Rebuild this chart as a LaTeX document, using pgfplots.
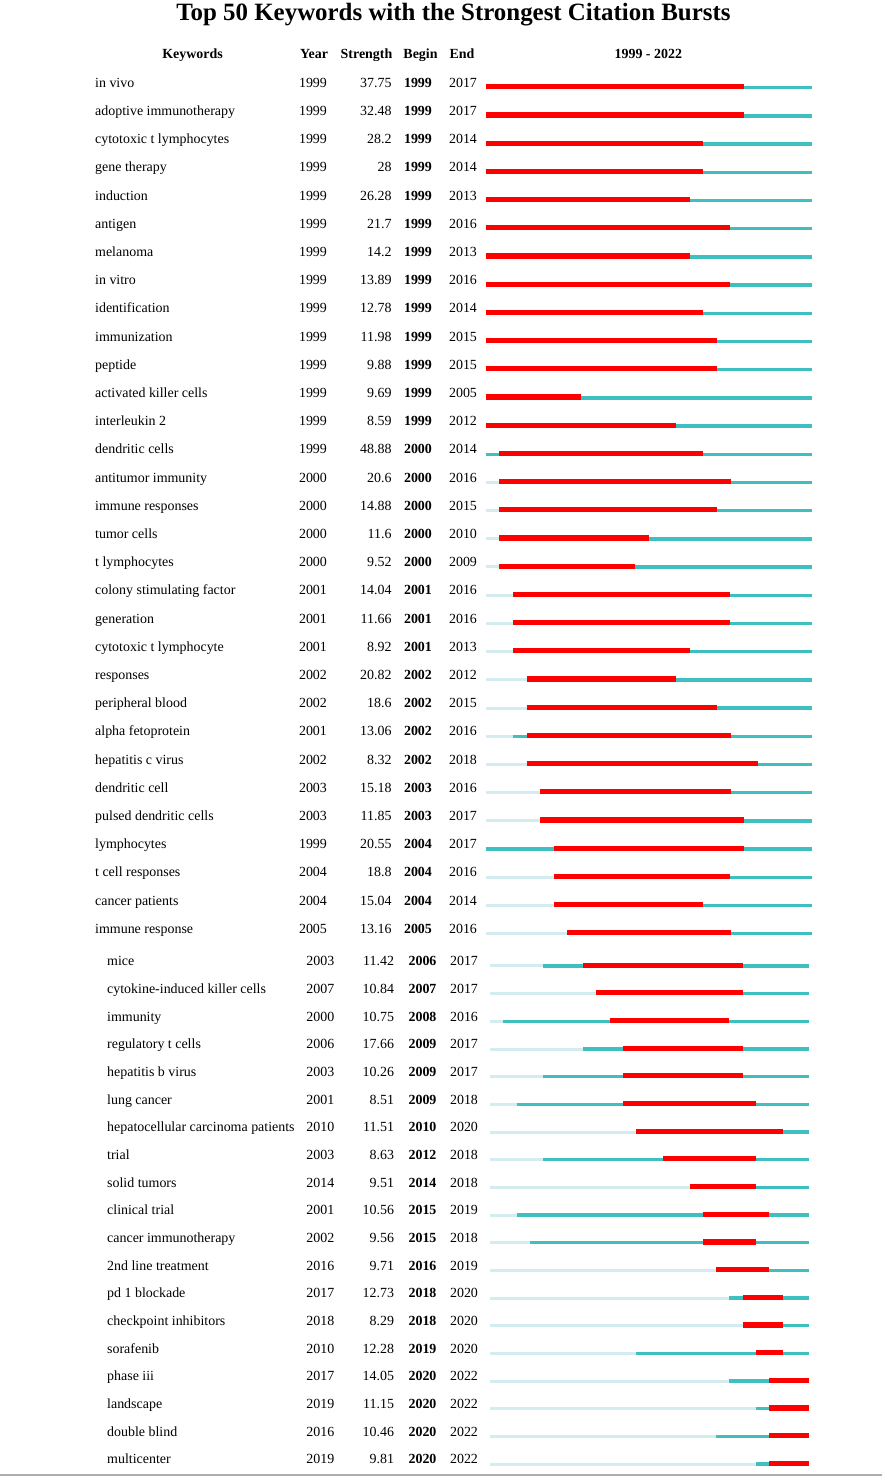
\documentclass[border=0pt]{standalone}
\usepackage{fontspec}
\setmainfont{Liberation Serif}
\usepackage{pgfplots}
\usepackage{pgfplotstable}
\pgfplotsset{compat=1.18}

\definecolor{burst}{HTML}{FF0000}
\definecolor{active}{HTML}{3FBFBF}
\definecolor{before}{HTML}{D2ECEF}
\definecolor{rulegray}{HTML}{A9AEB3}
\newcommand\bodyfont{\fontsize{14}{16}\selectfont}

% first image: rows 1-31
\pgfplotstableread[col sep=comma]{
row,kw,yr,str,bg,ed
1,in vivo,1999,37.75,1999,2017
2,adoptive immunotherapy,1999,32.48,1999,2017
3,cytotoxic t lymphocytes,1999,28.2,1999,2014
4,gene therapy,1999,28,1999,2014
5,induction,1999,26.28,1999,2013
6,antigen,1999,21.7,1999,2016
7,melanoma,1999,14.2,1999,2013
8,in vitro,1999,13.89,1999,2016
9,identification,1999,12.78,1999,2014
10,immunization,1999,11.98,1999,2015
11,peptide,1999,9.88,1999,2015
12,activated killer cells,1999,9.69,1999,2005
13,interleukin 2,1999,8.59,1999,2012
14,dendritic cells,1999,48.88,2000,2014
15,antitumor immunity,2000,20.6,2000,2016
16,immune responses,2000,14.88,2000,2015
17,tumor cells,2000,11.6,2000,2010
18,t lymphocytes,2000,9.52,2000,2009
19,colony stimulating factor,2001,14.04,2001,2016
20,generation,2001,11.66,2001,2016
21,cytotoxic t lymphocyte,2001,8.92,2001,2013
22,responses,2002,20.82,2002,2012
23,peripheral blood,2002,18.6,2002,2015
24,alpha fetoprotein,2001,13.06,2002,2016
25,hepatitis c virus,2002,8.32,2002,2018
26,dendritic cell,2003,15.18,2003,2016
27,pulsed dendritic cells,2003,11.85,2003,2017
28,lymphocytes,1999,20.55,2004,2017
29,t cell responses,2004,18.8,2004,2016
30,cancer patients,2004,15.04,2004,2014
31,immune response,2005,13.16,2005,2016
}\toptab

% second image: rows 32-50
\pgfplotstableread[col sep=comma]{
row,kw,yr,str,bg,ed
32,mice,2003,11.42,2006,2017
33,cytokine-induced killer cells,2007,10.84,2007,2017
34,immunity,2000,10.75,2008,2016
35,regulatory t cells,2006,17.66,2009,2017
36,hepatitis b virus,2003,10.26,2009,2017
37,lung cancer,2001,8.51,2009,2018
38,hepatocellular carcinoma patients,2010,11.51,2010,2020
39,trial,2003,8.63,2012,2018
40,solid tumors,2014,9.51,2014,2018
41,clinical trial,2001,10.56,2015,2019
42,cancer immunotherapy,2002,9.56,2015,2018
43,2nd line treatment,2016,9.71,2016,2019
44,pd 1 blockade,2017,12.73,2018,2020
45,checkpoint inhibitors,2018,8.29,2018,2020
46,sorafenib,2010,12.28,2019,2020
47,phase iii,2017,14.05,2020,2022
48,landscape,2019,11.15,2020,2022
49,double blind,2016,10.46,2020,2022
50,multicenter,2019,9.81,2020,2022
}\bottab

\pgfplotsset{
  chart/.style={width=886bp, height=1484bp, scale only axis, hide axis,
    clip=false, y dir=reverse},
  seg/.style={mark=none, line width=#1,
    quiver/every arrow/.append style={line width=#1}},
  txt/.style={only marks, mark=none, black, nodes near coords,
    point meta=explicit symbolic, nodes near coords align={anchor=#1},
    every node near coord/.append style={anchor=#1, inner sep=0pt,
      font=\bodyfont, text=black}},
}

\begin{document}
\begin{tikzpicture}
\begin{axis}[chart, xmin=1963.287, xmax=2028.434, ymin=-2.0957, ymax=50.528]
\addplot[seg=3bp, before, quiver={u=24, v=0}]
  table[x expr=1999, y expr=\thisrow{row}+0.011] {\toptab};
\addplot[seg=3.4bp, active, quiver={u=2023-\thisrow{yr}, v=0}]
  table[x=yr, y expr=\thisrow{row}+0.012] {\toptab};
\addplot[seg=5.2bp, burst, quiver={u=\thisrow{ed}+1-\thisrow{bg}, v=0}]
  table[x=bg, y expr=\thisrow{row}-0.018] {\toptab};

\addplot[txt=base west] table[x expr=1970.272, y=row, meta=kw] {\toptab};
\addplot[txt=base] table[x expr=1986.301, y=row, meta=yr] {\toptab};
\addplot[txt=base east] table[x expr=1992.088, y=row, meta=str] {\toptab};
\addplot[txt=base, every node near coord/.append style={font=\bodyfont\bfseries}]
  table[x expr=1994.022, y=row, meta=bg] {\toptab};
\addplot[txt=base] table[x expr=1997.331, y=row, meta=ed] {\toptab};

\node[anchor=base, font=\fontsize{25}{30}\selectfont\bfseries]
  at (axis cs:1996.632,-1.36) {Top 50 Keywords with the Strongest Citation Bursts};
\node[anchor=base, font=\bodyfont\bfseries] at (axis cs:1977.441,-0.0213) {Keywords};
\node[anchor=base, font=\bodyfont\bfseries] at (axis cs:1986.375,-0.0213) {Year};
\node[anchor=base, font=\bodyfont\bfseries] at (axis cs:1990.235,-0.0213) {Strength};
\node[anchor=base, font=\bodyfont\bfseries] at (axis cs:1994.206,-0.0213) {Begin};
\node[anchor=base, font=\bodyfont\bfseries] at (axis cs:1997.257,-0.0213) {End};
\node[anchor=base, font=\bodyfont\bfseries] at (axis cs:2010.956,-0.0213) {1999 - 2022};
\end{axis}

\begin{axis}[chart, xmin=1962.158, xmax=2028.774, ymin=-2.900, ymax=50.732]
\addplot[seg=3bp, before, quiver={u=24, v=0}]
  table[x expr=1999, y expr=\thisrow{row}+0.011] {\bottab};
\addplot[seg=3.4bp, active, quiver={u=2023-\thisrow{yr}, v=0}]
  table[x=yr, y expr=\thisrow{row}+0.012] {\bottab};
\addplot[seg=5.2bp, burst, quiver={u=\thisrow{ed}+1-\thisrow{bg}, v=0}]
  table[x=bg, y expr=\thisrow{row}-0.018] {\bottab};

\addplot[txt=base west] table[x expr=1970.203, y=row, meta=kw] {\bottab};
\addplot[txt=base] table[x expr=1986.241, y=row, meta=yr] {\bottab};
\addplot[txt=base east] table[x expr=1991.805, y=row, meta=str] {\bottab};
\addplot[txt=base, every node near coord/.append style={font=\bodyfont\bfseries}]
  table[x expr=1993.925, y=row, meta=bg] {\bottab};
\addplot[txt=base] table[x expr=1997.045, y=row, meta=ed] {\bottab};

% grey rule under the table
\addplot[rulegray, line width=2bp, mark=none]
  coordinates {(1962.158,50.424) (2028.474,50.424)};
\end{axis}
\pgfresetboundingbox
\path (current axis.south west) rectangle (current axis.north east);
\end{tikzpicture}
\end{document}
